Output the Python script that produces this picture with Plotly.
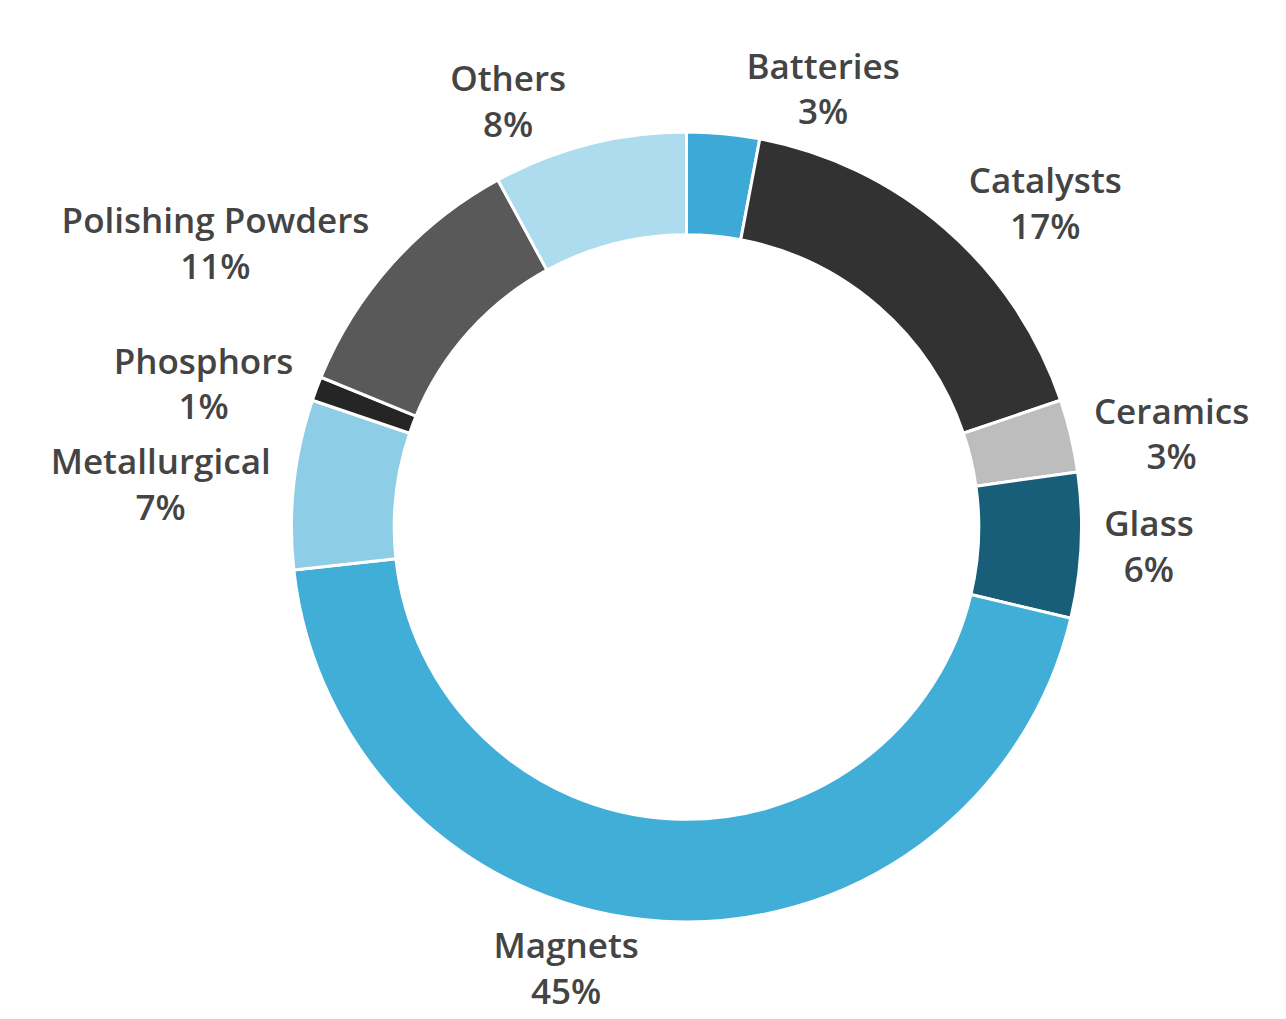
import plotly.graph_objects as go

labels = ["Batteries", "Catalysts", "Ceramics", "Glass", "Magnets",
          "Metallurgical", "Phosphors", "Polishing Powders", "Others"]
values = [3, 17, 3, 6, 45, 7, 1, 11, 8]
colors = ["#3DA9D6", "#323232", "#BDBDBD", "#195E78", "#41AED8",
          "#8DCDE6", "#252525", "#5A595A", "#ADDCEE"]

fig = go.Figure(go.Pie(
    labels=labels,
    values=values,
    hole=0.74,
    sort=False,
    direction="clockwise",
    rotation=0,
    marker=dict(colors=colors, line=dict(color="white", width=3)),
    textposition="outside",
    texttemplate="%{label}<br>%{value}%",
    textfont=dict(family="Open Sans", size=35, color="#444444", weight=600),
    showlegend=False,
))

fig.update_layout(
    width=1286, height=1019,
    margin=dict(l=275, r=187, t=132, b=60),
    paper_bgcolor="white",
    plot_bgcolor="white",
)

fig.write_html("out.html")
